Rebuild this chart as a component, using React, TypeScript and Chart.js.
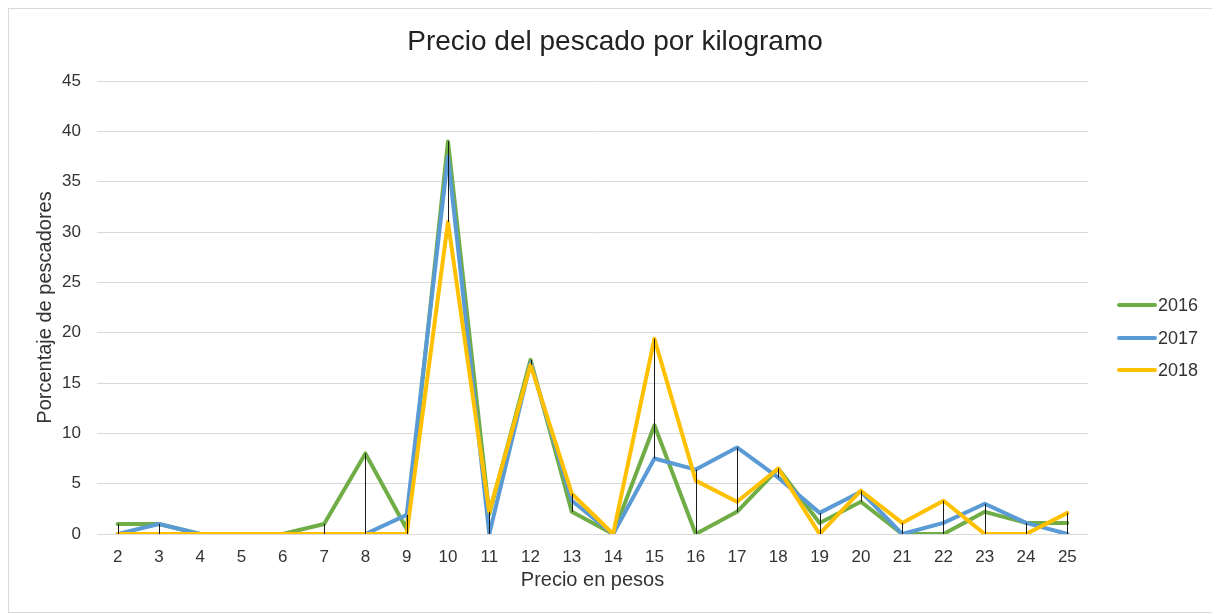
import React, { useEffect, useRef } from "react";
import { Chart, registerables } from "chart.js";

Chart.register(...registerables);

const categories = ["2","3","4","5","6","7","8","9","10","11","12","13","14","15","16","17","18","19","20","21","22","23","24","25"];
const s2016 = [1,1,0,0,0,1,8,0.5,39,2,17.3,2.2,0,10.8,0,2.2,6.5,1.1,3.2,0,0,2.2,1.1,1.1];
const s2017 = [0,1,0,0,0,0,0,1.9,37.5,0,17,3.3,0,7.5,6.4,8.6,5.6,2.1,4.2,0,1.1,3,1.1,0];
const s2018 = [0,0,0,0,0,0,0,0,31,2.2,16.8,4,0,19.4,5.3,3.2,6.5,0,4.3,1.1,3.3,0,0,2.1];
const seriesNames = ["2016", "2017", "2018"];
const seriesColors = ["#70AD47", "#5B9BD5", "#FFC000"];
const chartTitle = "Precio del pescado por kilogramo";

const FONT = "'Liberation Sans', Arial, sans-serif";

const hiLowPlugin = {
  id: "hiLow",
  afterDatasetsDraw(chart: any) {
    const { ctx } = chart;
    const x = chart.scales.x;
    const y = chart.scales.y;
    const sets = chart.data.datasets;
    ctx.save();
    ctx.strokeStyle = "#1a1a1a";
    ctx.lineWidth = 1;
    for (let i = 0; i < categories.length; i++) {
      const vals = sets.map((d: any) => d.data[i] as number);
      const hi = Math.max(...vals);
      const lo = Math.min(...vals);
      if (hi === lo) continue;
      const px = Math.round(x.getPixelForValue(i)) + 0.5;
      ctx.beginPath();
      ctx.moveTo(px, y.getPixelForValue(hi));
      ctx.lineTo(px, y.getPixelForValue(lo));
      ctx.stroke();
    }
    ctx.restore();
  },
};

const decorPlugin = {
  id: "decor",
  afterDraw(chart: any) {
    const { ctx } = chart;
    ctx.save();
    // title
    ctx.font = `28px ${FONT}`;
    ctx.textAlign = "center";
    ctx.textBaseline = "middle";
    ctx.fillStyle = "#222";
    ctx.fillText(chartTitle, 606, 33);
    // legend
    ctx.font = `18px ${FONT}`;
    ctx.textAlign = "left";
    ctx.fillStyle = "#333";
    const x0 = 1108;
    const ys = [296, 329, 361];
    seriesNames.forEach((name, i) => {
      ctx.strokeStyle = seriesColors[i];
      ctx.lineWidth = 4;
      ctx.lineCap = "round";
      ctx.beginPath();
      ctx.moveTo(x0 + 2, ys[i]);
      ctx.lineTo(x0 + 38, ys[i]);
      ctx.stroke();
      ctx.fillText(name, x0 + 41, ys[i] + 1);
    });
    ctx.restore();
  },
};

export default function App() {
  const ref = useRef<HTMLCanvasElement | null>(null);
  useEffect(() => {
    if (!ref.current) return;
    const mk = (label: string, data: number[], color: string, order: number) => ({
      label,
      data,
      borderColor: color,
      backgroundColor: color,
      borderWidth: 4,
      borderJoinStyle: "round" as const,
      borderCapStyle: "round" as const,
      pointRadius: 0,
      tension: 0,
      order,
    });
    const chart = new Chart(ref.current, {
      type: "line",
      data: {
        labels: categories,
        datasets: [
          mk(seriesNames[0], s2016, seriesColors[0], 2),
          mk(seriesNames[1], s2017, seriesColors[1], 1),
          mk(seriesNames[2], s2018, seriesColors[2], 0),
        ],
      },
      options: {
        responsive: false,
        animation: false,
        layout: { padding: { left: 24, right: 129, top: 72, bottom: 20 } },
        plugins: {
          legend: { display: false },
          tooltip: { enabled: false },
          title: { display: false },
        },
        scales: {
          x: {
            offset: true,
            grid: { display: false, drawTicks: false },
            border: { display: false },
            ticks: { color: "#333", font: { family: FONT, size: 17 }, padding: 13, maxRotation: 0, autoSkip: false },
            title: {
              display: true,
              text: "Precio en pesos",
              color: "#333",
              font: { family: FONT, size: 20 },
              padding: { top: 0, bottom: 0 },
            },
            afterFit(scale: any) {
              scale.height = 58;
            },
          },
          y: {
            min: 0,
            max: 45,
            grid: { color: "#d9d9d9", lineWidth: 1, drawTicks: false },
            border: { display: false },
            ticks: { stepSize: 5, color: "#333", font: { family: FONT, size: 17 }, padding: 16 },
            title: {
              display: true,
              text: "Porcentaje de pescadores",
              color: "#333",
              font: { family: FONT, size: 20 },
              padding: { top: 0, bottom: 0 },
            },
            afterFit(scale: any) {
              scale.width = 64;
            },
          },
        },
      },
      plugins: [hiLowPlugin, decorPlugin],
    });
    return () => chart.destroy();
  }, []);
  return (
    <div style={{ width: 1208, height: 603, border: "1px solid #d9d9d9", background: "#fff" }}>
      <canvas ref={ref} width={1208} height={603} style={{ display: "block" }} />
    </div>
  );
}
